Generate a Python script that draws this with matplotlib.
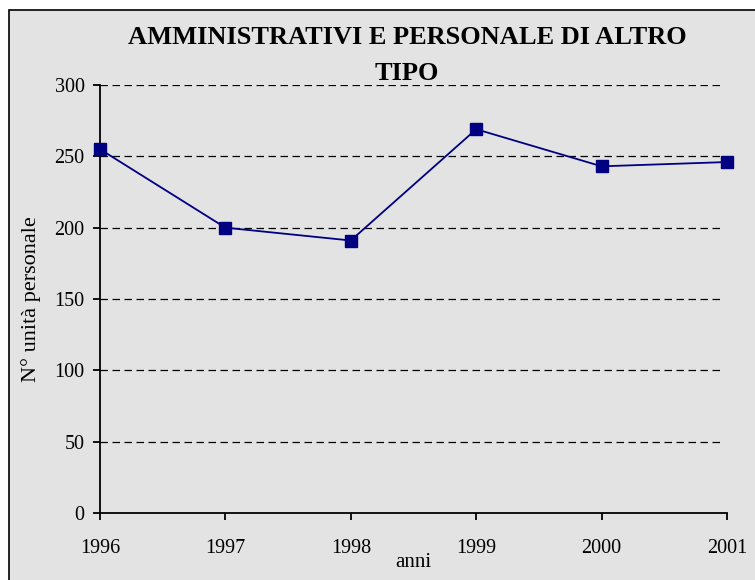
import matplotlib
matplotlib.use("Agg")
import matplotlib.pyplot as plt
from matplotlib.patches import Rectangle

anni = [1996, 1997, 1998, 1999, 2000, 2001]
unita = [255, 200, 191, 269, 243, 246]
yticks = [0, 50, 100, 150, 200, 250, 300]

plt.rcParams['font.family'] = ['Liberation Serif', 'DejaVu Serif']

fig = plt.figure(figsize=(7.55, 5.8), dpi=100)
fig.patch.set_facecolor('white')
bg = '#e3e3e3'
# grey chart area with frame, cut off at right and bottom edges like the original
fig.patches.append(Rectangle((9 / 755, -0.05), 1.1, 1.05 - 10 / 580, transform=fig.transFigure,
                             facecolor=bg, edgecolor='black', linewidth=1.2, zorder=-10))

ax = fig.add_axes([100 / 755, 1 - 513 / 580, 627 / 755, 428 / 580])
ax.set_facecolor('none')

for v in yticks[1:]:
    ax.plot([1996, 2000.97], [v, v], color='black', lw=0.9,
            linestyle=(0, (6, 3.6)), zorder=1)

ax.plot(anni, unita, color='#000080', lw=1.3, marker='s', markersize=9,
        markerfacecolor='#000080', markeredgecolor='#000080', zorder=3, clip_on=False)

ax.set_xlim(1996, 2001)
ax.set_ylim(0, 300)
ax.set_xticks(anni)
ax.set_yticks(yticks)
ax.spines['top'].set_visible(False)
ax.spines['right'].set_visible(False)
ax.spines['left'].set_linewidth(1.3)
ax.spines['bottom'].set_linewidth(1.3)
ax.tick_params(axis='both', direction='out', length=5, width=1.3, labelsize=14.5, pad=6)
ax.tick_params(axis='x', pad=14)

ax.set_xlabel('anni', fontsize=15, labelpad=-4)
ax.set_ylabel('N° unità personale', fontsize=16, labelpad=10)
ax.set_title('AMMINISTRATIVI E PERSONALE DI ALTRO\nTIPO', fontsize=19, fontweight='bold',
             linespacing=1.72, pad=-3, x=0.49)

fig.savefig('out.png', dpi=100)
